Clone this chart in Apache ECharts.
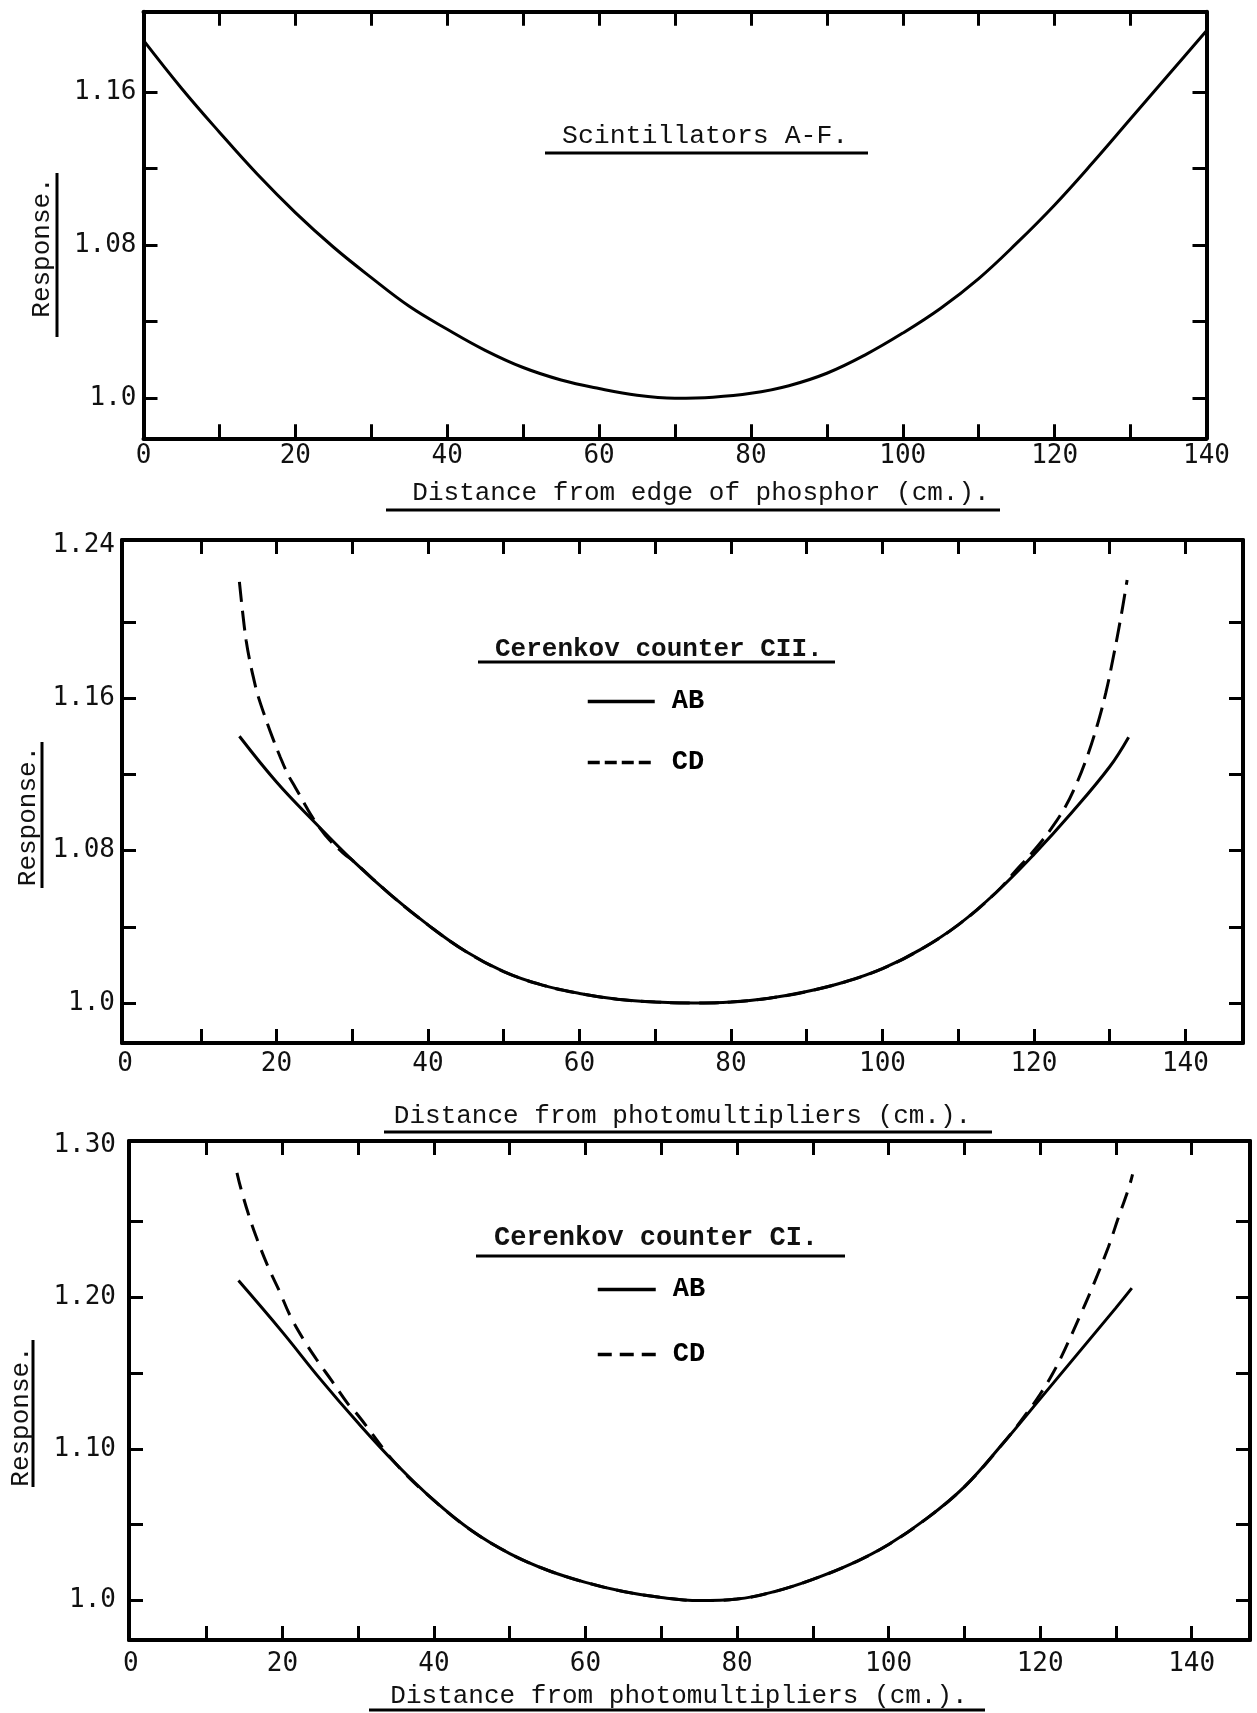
<!DOCTYPE html>
<html><head><meta charset="utf-8">
<script src="https://cdn.jsdelivr.net/npm/echarts@6/dist/echarts.min.js"></script>
<style>html,body{margin:0;padding:0;background:#fff}#c{width:1257px;height:1713px}</style>
</head><body><div id="c"></div>
<script>
// ---------- data ----------
const scintX = [0,5,10,15,20,25,30,35,40,45,50,55,60,65,70,75,80,85,90,95,100,105,110,115,120,125,130,135,140];
const scintY = [1.187,1.162,1.139,1.117,1.097,1.079,1.063,1.048,1.036,1.025,1.016,1.0095,1.005,1.0015,1.000,1.0005,1.0025,1.0065,1.013,1.0225,1.034,1.047,1.0625,1.081,1.101,1.123,1.146,1.169,1.192];

const c2AbX = [15.1,20,25,30,35,40,45,50,55,60,65,70,75,80,85,90,95,100,105,110,115,120,125,130,132.5];
const c2AbY = [1.140,1.116,1.095,1.075,1.057,1.041,1.027,1.0165,1.0095,1.005,1.002,1.0005,1.000,1.0005,1.0025,1.006,1.011,1.018,1.028,1.041,1.058,1.078,1.100,1.124,1.1395];
const c2CdX = [15.1,15.5,16,16.5,17,17.5,18.5,19.5,20.5,21.5,22.5,23.5,24.5,25.5,27,29,30,35,40,45,50,55,60,65,70,75,80,85,90,95,100,105,110,115,117.5,120,122,124,125.5,127,128.3,129.5,130.5,131.5,132.3];
const c2CdY = [1.221,1.206,1.190,1.179,1.170,1.162,1.150,1.139,1.129,1.120,1.113,1.106,1.099,1.093,1.0855,1.078,1.075,1.057,1.041,1.027,1.0165,1.0095,1.005,1.002,1.0005,1.000,1.0005,1.0025,1.006,1.011,1.018,1.028,1.041,1.058,1.069,1.080,1.090,1.102,1.114,1.129,1.145,1.163,1.182,1.203,1.222];

const c1AbX = [14.2,20,25,30,35,40,45,50,55,60,65,70,75,80,85,90,95,100,105,110,115,120,125,130,132.1];
const c1AbY = [1.211,1.177,1.146,1.117,1.090,1.066,1.046,1.031,1.020,1.012,1.006,1.002,1.000,1.001,1.006,1.014,1.024,1.037,1.054,1.075,1.103,1.133,1.163,1.193,1.206];
const c1CdX = [14,14.5,15.5,16.6,18.2,19.6,21,22.8,24.5,26.5,28.6,30,35,40,45,50,55,60,65,70,75,80,85,90,95,100,105,110,115,118,120,121.7,123.3,125.2,127.1,129,130.3,131.7,132.2];
const c1CdY = [1.282,1.272,1.255,1.239,1.219,1.204,1.188,1.172,1.159,1.145,1.130,1.122,1.090,1.066,1.046,1.031,1.020,1.012,1.006,1.002,1.000,1.001,1.006,1.014,1.024,1.037,1.054,1.075,1.103,1.122,1.136,1.150,1.166,1.187,1.209,1.233,1.252,1.272,1.281];

const xTickLabels = ['0','20','40','60','80','100','120','140'];
const xTicks = [10,20,30,40,50,60,70,80,90,100,110,120,130,140];
const topYLabels = ['1.0','1.08','1.16'];
const topYTicks = [1.0,1.04,1.08,1.12,1.16];
const midYLabels = ['1.0','1.08','1.16','1.24'];
const midYTicks = [1.0,1.04,1.08,1.12,1.16,1.20];
const botYLabels = ['1.0','1.10','1.20','1.30'];
const botYTicks = [1.0,1.05,1.10,1.15,1.20,1.25];

const seriesNames = ['AB','CD'];
const panelTitles = ['Scintillators A-F.','Cerenkov counter CII.','Cerenkov counter CI.'];
const xAxisNames = ['Distance from edge of phosphor (cm.).','Distance from photomultipliers (cm.).','Distance from photomultipliers (cm.).'];
const yAxisName = 'Response.';

// ---------- helpers ----------
const zip = (xs, ys) => xs.map((x, i) => [x, ys[i]]);
const NUM_FONT = 'DejaVu Sans Mono';
const TYPE_FONT = 'Liberation Mono';
const BLACK = '#111';

const grids = [
  {left: 143.5, top: 11.7, width: 1063, height: 426.6},
  {left: 122, top: 540, width: 1121, height: 503},
  {left: 128.6, top: 1141, width: 1121.4, height: 499}
];
const xRanges = [[0,140],[-0.4,147.6],[-0.25,147.7]];
const yRanges = [[0.979,1.202],[0.979,1.243],[0.974,1.303]];
const yLabelSets = [topYLabels, midYLabels, botYLabels];
const yTickSets = [topYTicks, midYTicks, botYTicks];
const xLabelMargins = [5, 8, 11];
const yLabelMargins = [7, 7, 13];
const xNameGaps = [42, 60, 43];
const xNamePads = [[0,0,0,52],[0,0,0,0],[0,21,0,0]];
const yNameGaps = [88, 80, 95];
const yNamePads = [[0,45,0,0],[0,49,0,0],[0,52,0,0]];

const axisLine = {show: true, onZero: false, lineStyle: {color: '#000', width: 4}};
const tickStyle = {color: '#000', width: 3};

const xAxis = [], yAxis = [];
grids.forEach((g, i) => {
  const xl = xTickLabels.map(Number);
  xAxis.push({
    type: 'value', gridIndex: i, position: 'bottom', min: xRanges[i][0], max: xRanges[i][1],
    axisLine, splitLine: {show: false},
    axisTick: {show: true, inside: true, length: 14, customValues: xTicks, lineStyle: tickStyle},
    axisLabel: {show: true, customValues: xl, margin: xLabelMargins[i], fontFamily: NUM_FONT, fontSize: 26, color: BLACK,
      formatter: v => String(v), hideOverlap: false},
    name: xAxisNames[i], nameLocation: 'middle', nameGap: xNameGaps[i],
    nameTextStyle: {fontFamily: TYPE_FONT, fontSize: 26, color: BLACK, padding: xNamePads[i]}
  });
  xAxis.push({
    type: 'value', gridIndex: i, position: 'top', min: xRanges[i][0], max: xRanges[i][1],
    axisLine, splitLine: {show: false},
    axisTick: {show: true, inside: true, length: 14, customValues: xTicks, lineStyle: tickStyle},
    axisLabel: {show: false}
  });
  const labs = yLabelSets[i];
  yAxis.push({
    type: 'value', gridIndex: i, position: 'left', min: yRanges[i][0], max: yRanges[i][1],
    axisLine, splitLine: {show: false},
    axisTick: {show: true, inside: true, length: 14, customValues: yTickSets[i], lineStyle: tickStyle},
    axisLabel: {show: true, customValues: labs.map(Number), margin: yLabelMargins[i], fontFamily: NUM_FONT, fontSize: 26, color: BLACK,
      hideOverlap: false,
      formatter: v => { const s = labs.find(t => Math.abs(Number(t) - v) < 1e-6); return s || ''; }},
    name: yAxisName, nameLocation: 'middle', nameRotate: 90, nameGap: yNameGaps[i],
    nameTextStyle: {fontFamily: TYPE_FONT, fontSize: 26, color: BLACK, padding: yNamePads[i]}
  });
  yAxis.push({
    type: 'value', gridIndex: i, position: 'right', min: yRanges[i][0], max: yRanges[i][1],
    axisLine, splitLine: {show: false},
    axisTick: {show: true, inside: true, length: 14, customValues: yTickSets[i], lineStyle: tickStyle},
    axisLabel: {show: false}
  });
});

const lineSeries = (name, gi, data, dash) => ({
  type: 'line', name, xAxisIndex: gi * 2, yAxisIndex: gi * 2, data,
  smooth: 0.4, symbol: 'none', showSymbol: false, silent: true,
  itemStyle: {color: '#000'},
  lineStyle: {color: '#000', width: 3, type: dash || 'solid'}, z: dash ? 3 : 2
});

const series = [
  lineSeries('Scintillators A-F', 0, zip(scintX, scintY)),
  lineSeries(seriesNames[0], 1, zip(c2AbX, c2AbY)),
  lineSeries(seriesNames[1], 1, zip(c2CdX, c2CdY), [20, 9]),
  lineSeries(seriesNames[0], 2, zip(c1AbX, c1AbY)),
  lineSeries(seriesNames[1], 2, zip(c1CdX, c1CdY), [17, 10])
];

const legendText = {fontFamily: TYPE_FONT, fontWeight: 'bold', fontSize: 27, color: '#000', padding: [0,0,0,12]};
const legendCommon = {orient: 'vertical', itemHeight: 14, padding: 0, selectedMode: false, textStyle: legendText,
  itemStyle: {opacity: 0}, lineStyle: {width: 3.5, color: '#000'}};
const legend = [
  Object.assign({left: 586, top: 688, itemWidth: 67, itemGap: 34,
   data: [{name: seriesNames[0]}, {name: seriesNames[1], lineStyle: {type: [12, 5], width: 3.5, color: '#000'}}]}, legendCommon),
  Object.assign({left: 596, top: 1276, itemWidth: 58, itemGap: 38,
   data: [{name: seriesNames[0]}, {name: seriesNames[1], lineStyle: {type: [14, 8], width: 3.5, color: '#000'}}]}, legendCommon)
];

const title = [
  {text: panelTitles[0], left: 562, top: 122, padding: 0, textStyle: {fontFamily: TYPE_FONT, fontSize: 26.5, fontWeight: 'normal', color: BLACK}},
  {text: panelTitles[1], left: 495, top: 636, padding: 0, textStyle: {fontFamily: TYPE_FONT, fontSize: 26, fontWeight: 'bold', color: BLACK}},
  {text: panelTitles[2], left: 494, top: 1225, padding: 0, textStyle: {fontFamily: TYPE_FONT, fontSize: 27, fontWeight: 'bold', color: BLACK}}
];

const ul = (x1, y1, x2, y2) => ({type: 'line', silent: true, shape: {x1, y1, x2, y2}, style: {stroke: '#000', lineWidth: 3}});
const graphic = [
  ul(545, 153, 868, 153), ul(386, 510, 1000, 510), ul(57, 173, 57, 337),
  ul(478, 662, 835, 662), ul(384, 1132, 992, 1132), ul(42, 742, 42, 888),
  ul(476, 1256, 845, 1256), ul(369, 1710, 985, 1710), ul(33, 1340, 33, 1487)
];

const chart = echarts.init(document.getElementById('c'), null, {renderer: 'canvas'});
chart.setOption({
  backgroundColor: '#fff', animation: false,
  grid: grids.map(g => Object.assign({containLabel: false}, g)),
  xAxis, yAxis, series, legend, title, graphic
});
</script></body></html>
